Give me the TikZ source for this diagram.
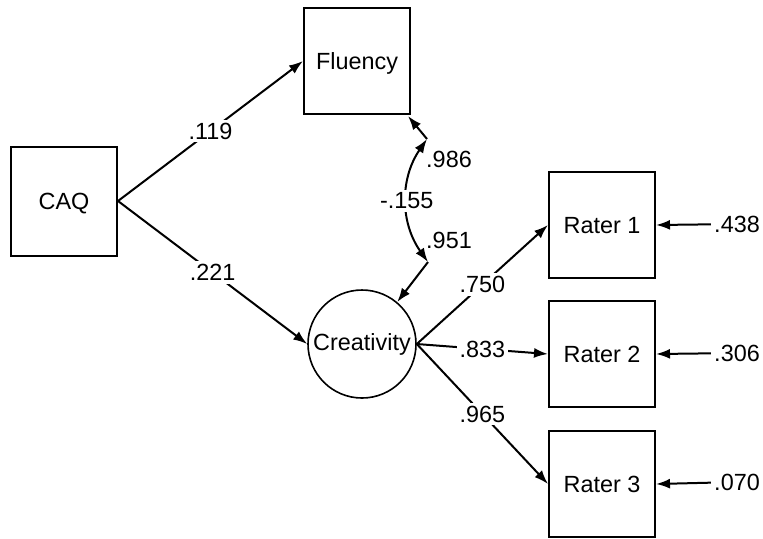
\documentclass[tikz,border=0pt]{standalone}
\usepackage{fontspec}
\setmainfont{Liberation Sans}
\usetikzlibrary{arrows.meta,positioning,calc}

\begin{document}
\begin{tikzpicture}[
    x=0.5pt,y=-0.5pt,
    obs/.style  = {draw, line width=1pt, minimum width=53pt, minimum height=53pt,
                   inner sep=0pt, text depth=0pt, font=\fontsize{11.7}{14}\selectfont},
    lat/.style  = {circle, draw, line width=0.8pt, minimum size=54pt,
                   inner sep=0pt, font=\fontsize{11.7}{14}\selectfont},
    coef/.style = {font=\fontsize{11.7}{14}\selectfont, fill=white, inner sep=1.5pt},
    pth/.style  = {-{Latex[length=7pt,width=5pt]}, line width=1pt},
    cov/.style  = {{Latex[length=7pt,width=5pt]}-{Latex[length=7pt,width=5pt]},
                   line width=1pt},
  ]

  \useasboundingbox (0,0) rectangle (763,538);

  % variables
  \node[obs, minimum height=54.5pt] (caq) at (64,201) {CAQ};
  \node[obs] (flu) at (357,61)  {Fluency};
  \node[lat] (cre) at (362,344) {Creativity};

  \node[obs] (ra1) at (602,225) {Rater 1};
  \node[obs] (ra2) at (602,354) {Rater 2};
  \node[obs] (ra3) at (602,484) {Rater 3};

  % residual ends
  \coordinate (ef) at (427,139);
  \coordinate (ec) at (428,262);
  \node[coef, fill=none] at (449,159) {.986};
  \node[coef, fill=none] at (449,240) {.951};

  \node[coef] (er1) at (737,224) {.438};
  \node[coef] (er2) at (737,353) {.306};
  \node[coef] (er3) at (737,482) {.070};

  % paths
  \draw[pth] (caq.east) -- node[coef] {.119} (flu.west);
  \draw[pth] (caq.east) -- node[coef] {.221} (cre.west);

  \draw[pth] (ef) -- ($(flu.south east)+(-3,1)$);
  \draw[pth] (ec) -- (cre.50);
  \draw[cov] (ef) to[bend right=35] node[coef] {-.155} (ec);

  \draw[pth] (cre.east) -- node[coef] {.750} (ra1.west);
  \draw[pth] (cre.east) -- node[coef] {.833} (ra2.west);
  \draw[pth] (cre.east) -- node[coef] {.965} (ra3.west);

  \draw[pth] (er1) -- (ra1.east);
  \draw[pth] (er2) -- (ra2.east);
  \draw[pth] (er3) -- (ra3.east);

\end{tikzpicture}
\end{document}
